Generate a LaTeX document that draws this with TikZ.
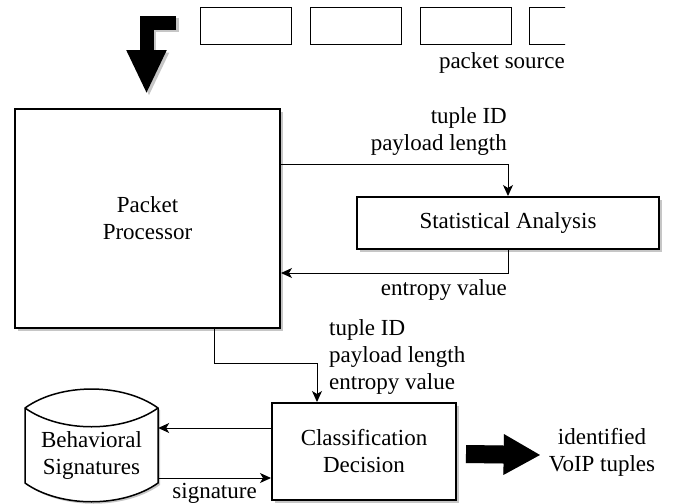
\documentclass[tikz,border=0pt]{standalone}
\usepackage{fontspec}
\setmainfont{Liberation Serif}
\usetikzlibrary{%
  arrows.meta,
  positioning,
  shadows, calc
}

\tikzset{
  blk/.style={draw, line width=2pt, fill=white,
    drop shadow={shadow xshift=2.5pt, shadow yshift=-2.5pt, fill=gray!45, opacity=1}},
  pkt/.style={draw, line width=1pt},
  flow/.style={-{Stealth[length=11pt,width=10pt,inset=3pt]}, line width=1pt},
  txt/.style={font=\fontsize{23}{27}\selectfont, align=center, inner sep=0pt},
}

\begin{document}
\begin{tikzpicture}[x=1pt,y=-1pt]
  \useasboundingbox (0,0) rectangle (673,504);

  % packet source
  \begin{scope}
    \clip (0,0) rectangle (565,60);
    \foreach \x [count=\i] in {200,310,420,529} {
      \draw[pkt] (\x,7) rectangle (\x+91,44);
    }
  \end{scope}
  \node[txt, anchor=east] (src) at (565,63) {packet source};

  % big L arrow into the processor
  \def\Larrow{(176,22.5) -- (146.5,22.5) -- (146.5,94)}
  \draw[gray!45, line width=14pt, line join=miter,
    -{Triangle[length=44pt,width=37pt]}, xshift=2.5pt, yshift=-2.5pt] \Larrow;
  \draw[line width=14pt, line join=miter,
    -{Triangle[length=44pt,width=37pt]}] \Larrow;

  % boxes
  \node[blk, minimum width=265, minimum height=219, txt] (pp) at (147.5,218.5)
    {Packet\\Processor};
  \node[blk, minimum width=302, minimum height=52, txt] (sa) at (508,223)
    {Statistical Analysis};
  \node[blk, minimum width=184, minimum height=97, txt] (cd) at (364,451.5)
    {Classification\\Decision};

  % behavioral signatures store
  \path[draw, line width=1.5pt, fill=white,
    drop shadow={shadow xshift=2pt, shadow yshift=-2pt, fill=gray!45, opacity=1}]
    (25,408) .. controls (60,382.7) and (123,382.7) .. (158,408)
    -- (158,483) .. controls (123,508) and (60,508) .. (25,483) -- cycle;
  \draw[line width=1.5pt] (25,408) .. controls (60,433) and (123,433) .. (158,408);
  \node[txt, minimum width=133, minimum height=75] (bs) at (91.5,455)
    {Behavioral\\Signatures};

  % connectors
  \coordinate (t1) at (508,164);
  \coordinate (t2) at (508,273);
  \coordinate (d1) at (214,363);
  \coordinate (d2) at (317,363);
  \coordinate (s1) at (0,428);
  \coordinate (s2) at (0,478);

  \draw[flow] (pp.east |- t1) -| (sa.north -| t1);
  \draw[flow] (sa.south -| t2) |- (pp.east |- t2);
  \draw[flow] (pp.south -| d1) -- (d1) -- (d2) -- (cd.north -| d2);
  \draw[flow] (cd.west |- s1) -- (bs.east |- s1);
  \draw[flow] (bs.east |- s2) -- (cd.west |- s2)
    node[txt, midway, below=5pt] (sig) {signature};

  \node[txt, anchor=east, align=right] (lab1) at (507,131.5)
    {tuple ID\\payload length};
  \node[txt, anchor=east] (lab2) at (507,290) {entropy value};
  \node[txt, anchor=west, align=left] (lab3) at (329,357)
    {tuple ID\\payload length\\entropy value};

  % output
  \node[txt] (out) at (602,452.5) {identified\\VoIP tuples};
  \draw[gray!45, line width=18pt, -{Triangle[length=37pt,width=38pt]},
    xshift=2pt, yshift=-2pt] ($(cd.east)+(9,2.5)$) -- ($(out.west)+(-8,2.5)$);
  \draw[line width=18pt, -{Triangle[length=37pt,width=38pt]}]
    ($(cd.east)+(9,2.5)$) -- ($(out.west)+(-8,2.5)$);
\end{tikzpicture}
\end{document}
